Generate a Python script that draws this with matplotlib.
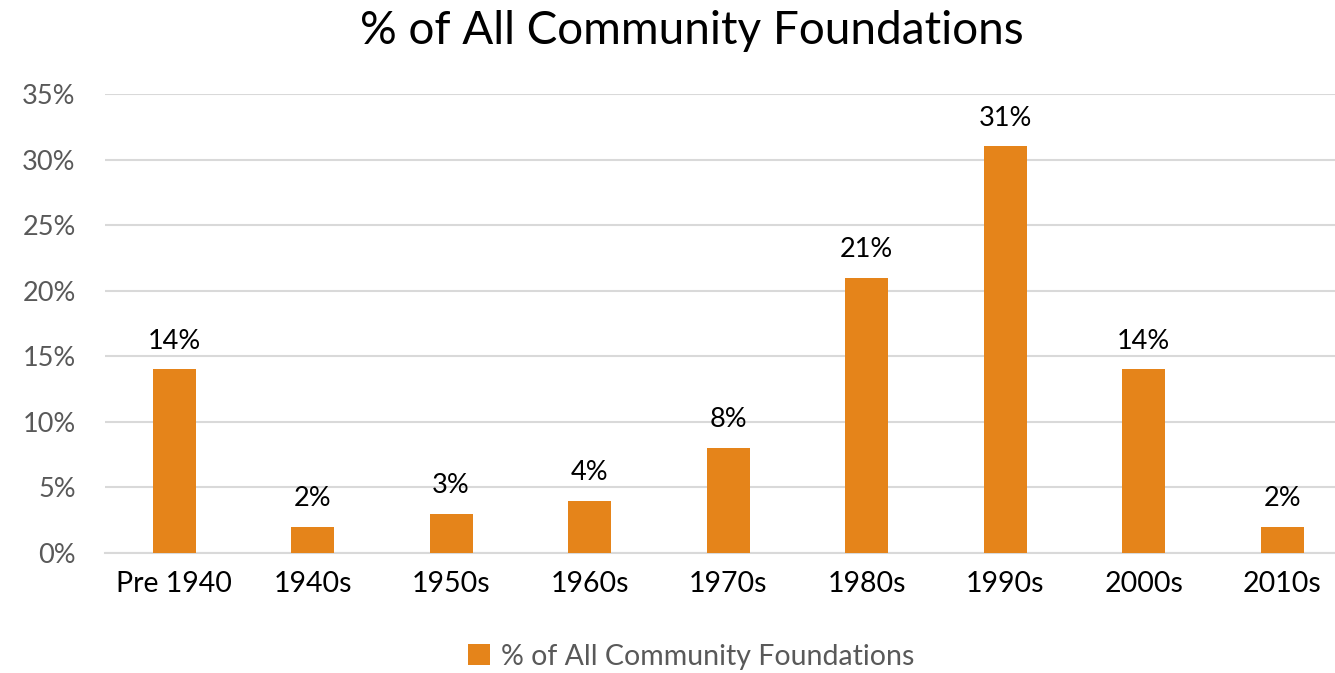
import numpy as np
import matplotlib.pyplot as plt
from matplotlib.ticker import FuncFormatter

plt.rcParams['font.family'] = ['Lato', 'DejaVu Sans']

decades = ['Pre 1940', '1940s', '1950s', '1960s', '1970s', '1980s', '1990s', '2000s', '2010s']
share = [14, 2, 3, 4, 8, 21, 31, 14, 2]
series_name = '% of All Community Foundations'

bar_color = '#E5841A'
grid_color = '#D9D9D9'

fig = plt.figure(figsize=(13.35, 6.73), dpi=100)
ax = fig.add_axes([0.0785, 0.1783, 0.934, 0.682])

x = np.arange(len(decades))
bars = ax.bar(x, share, width=0.31, color=bar_color, label=series_name, zorder=3)

for xi, v in zip(x, share):
    ax.text(xi, v + 1.2, f'{v}%', ha='center', va='bottom', fontsize=19.5, color='black')

ax.set_xlim(-0.5, len(decades) - 0.5)
ax.set_ylim(0, 35)
ax.set_yticks(np.arange(0, 36, 5))
ax.yaxis.set_major_formatter(FuncFormatter(lambda v, p: f'{v:.0f}%'))
ax.set_xticks(x)
ax.set_xticklabels(decades)
ax.grid(axis='y', color=grid_color, linewidth=1.5, zorder=0)
for s in ['top', 'right', 'left']:
    ax.spines[s].set_visible(False)
ax.spines['bottom'].set_color(grid_color)
ax.spines['bottom'].set_linewidth(1.5)
ax.tick_params(axis='both', length=0)
ax.tick_params(axis='y', labelsize=19.5, labelcolor='#595959', pad=21)
ax.tick_params(axis='x', labelsize=20.5, labelcolor='black', pad=13)

fig.suptitle(series_name, fontsize=33, y=0.985, va='top', x=0.518)

fig.legend(handles=[bars], labels=[series_name], loc='center', bbox_to_anchor=(0.518, 0.024),
           frameon=False, fontsize=20.5, labelcolor='#595959', handlelength=0.75, handleheight=0.75,
           handletextpad=0.4)

fig.savefig('out.png', dpi=100)
